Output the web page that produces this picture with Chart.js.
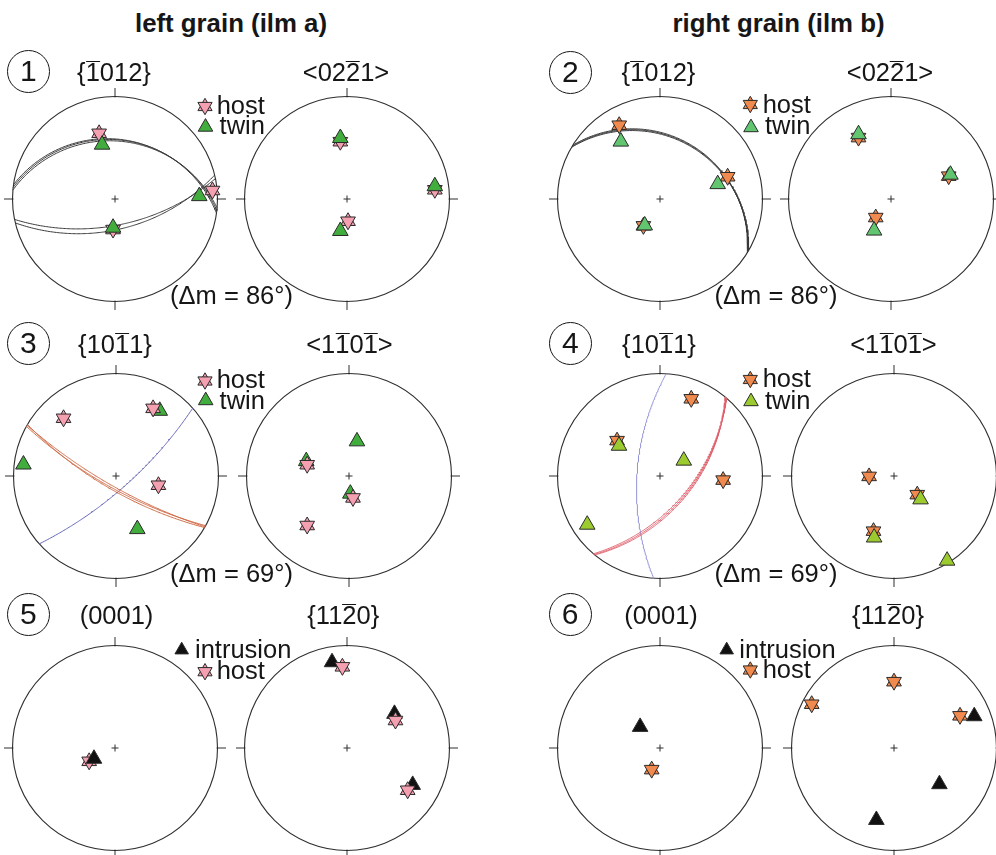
<!DOCTYPE html>
<html>
<head>
<meta charset="utf-8">
<title>Ilmenite twin orientations</title>
<script src="https://cdn.jsdelivr.net/npm/chart.js@4.4.1/dist/chart.umd.min.js"></script>
<style>
  html, body { margin: 0; padding: 0; width: 996px; height: 855px; overflow: hidden; background: #fff; }
  #fig { position: relative; width: 996px; height: 855px; overflow: hidden; }
  canvas.net { position: absolute; }
  .t { position: absolute; font-family: "Liberation Sans", Arial, sans-serif; color: #161616; white-space: nowrap; }
  .ob { display: inline-block; border-top: 1.6px solid #161616; line-height: 21px; }
  .num { position: absolute; box-sizing: border-box; width: 43px; height: 43px; border: 1.5px solid #161616;
         border-radius: 50%; text-align: center; font-family: "Liberation Sans", Arial, sans-serif;
         font-size: 30px; line-height: 40px; color: #161616; }
</style>
</head>
<body>
<div id="fig"></div>
<script>
// ---------- text ----------
const grainTitles = ['left grain (ilm a)', 'right grain (ilm b)'];
const panelNumbers = ['1', '2', '3', '4', '5', '6'];
// "~" puts a bar over the following digit
const planeLabels = [
  ['{~1012}', '<02~21>'],
  ['{10~11}', '<1~10~1>'],
  ['(0001)', '{11~20}']
];
const misorientation = ['(\u0394m = 86\u00b0)', '(\u0394m = 69\u00b0)'];
const seriesNames = { host: 'host', twin: 'twin', intr: 'intrusion' };

// ---------- poles: projected x (east), y (north), primitive radius = 1 ----------
// 1: left grain, {-1012} and <02-21>
const f1L_host = [[-0.155, 0.641], [0.951, 0.083], [-0.019, -0.298]];
const f1L_twin = [[-0.126, 0.530], [0.822, 0.028], [-0.019, -0.280]];
const f1R_host = [[-0.065, 0.559], [0.857, 0.090], [0.010, -0.217]];
const f1R_twin = [[-0.065, 0.595], [0.857, 0.125], [-0.065, -0.312]];
// 2: right grain, {-1012} and <02-21>
const f2L_host = [[-0.398, 0.720], [0.660, 0.217], [-0.162, -0.262]];
const f2L_twin = [[-0.382, 0.560], [0.563, 0.145], [-0.149, -0.258]];
const f2R_host = [[-0.317, 0.599], [0.563, 0.223], [-0.149, -0.181]];
const f2R_twin = [[-0.317, 0.632], [0.580, 0.237], [-0.165, -0.308]];
// 3: left grain, {10-11} and <1-10-1>
const f3L_host = [[-0.512, 0.563], [0.362, 0.660], [0.414, -0.090]];
const f3L_twin = [[-0.903, 0.112], [0.427, 0.636], [0.208, -0.518]];
const f3R_host = [[-0.408, 0.110], [0.039, -0.214], [-0.408, -0.483]];
const f3R_twin = [[0.078, 0.338], [-0.417, 0.145], [0.013, -0.172]];
// 4: right grain, {10-11} and <1-10-1>
const f4L_host = [[0.305, 0.753], [-0.419, 0.345], [0.616, -0.040]];
const f4L_twin = [[-0.400, 0.295], [0.232, 0.150], [-0.710, -0.475]];
const f4R_host = [[-0.243, -0.004], [0.227, -0.182], [-0.200, -0.538]];
const f4R_twin = [[0.259, -0.228], [-0.194, -0.600], [0.518, -0.826]];
// 5: left grain, (0001) and {11-20}
const f5L_intr = [[-0.205, -0.105]];
const f5L_host = [[-0.252, -0.130]];
const f5R_intr = [[-0.146, 0.837], [0.463, 0.333], [0.641, -0.360]];
const f5R_host = [[-0.045, 0.792], [0.473, 0.268], [0.592, -0.412]];
// 6: right grain, (0001) and {11-20}
const f6L_intr = [[-0.194, 0.206]];
const f6L_host = [[-0.081, -0.211]];
const f6R_host = [[0.000, 0.647], [-0.803, 0.427], [0.644, 0.314]];
const f6R_intr = [[0.783, 0.310], [0.443, -0.353], [-0.172, -0.702]];

// ---------- twin planes as [dip direction, dip] in degrees ----------
const f1_planes = [[6.5, 30.0], [5.0, 31.0], [8.0, 29.5], [168.5, 61.4], [166.5, 57.0]];
const f2_planes = [[30.9, 28.0], [31.6, 27.4], [30.2, 28.6]];
const f3_red = [[209.7, 78.6], [209.0, 76.3], [210.2, 74.6]];
const f3_blue = [[138.5, 75.2]];
const f4_red = [[130.6, 57.4], [130.0, 55.9], [129.6, 54.6]];
const f4_blue = [[273.5, 64.6]];

// ---------- styling ----------
const PINK = '#F5A0B1', ORANGE = '#F08A4E', GREEN = '#41AD3D', MINT = '#62C56F', LIME = '#9BCB2E', BLACK = '#111111';
const EDGE = '#2b2b2b';
const R = 102.5;          // primitive radius in px
const H = 125;            // half size of each net canvas
const L = H / R;          // axis half range in projection units
const D2R = Math.PI / 180;
const SIZE = { host: 8.5, twin: 9.0, intr: 9.0 };
const LEG_SIZE = { host: 8.2, twin: 8.4, intr: 7.8 };

// lower hemisphere stereographic trace of a plane
function greatCircle(dipDir, dip, n = 160) {
  const a = dipDir * D2R, d = dip * D2R;
  const sx = Math.sin(a - Math.PI / 2), sy = Math.cos(a - Math.PI / 2);
  const dx = Math.sin(a) * Math.cos(d), dy = Math.cos(a) * Math.cos(d), dz = -Math.sin(d);
  const out = [];
  for (let i = 0; i <= n; i++) {
    const t = Math.PI * i / n, c = Math.cos(t), s = Math.sin(t);
    const vx = c * sx + s * dx, vy = c * sy + s * dy, vz = s * dz;
    const k = 1 / (1 - vz);
    out.push({ x: vx * k, y: vy * k });
  }
  return out;
}

const toXY = arr => arr.map(([x, y]) => ({ x, y }));

const panels = [
  { cx: 115, cy: 199, host: f1L_host, other: f1L_twin, kind: 'twin', hostFill: PINK, otherFill: GREEN, top: 'twin',
    planes: [[f1_planes, '#3a3a3a', 1]], legend: [['host', 205, 106.5], ['twin', 205.5, 127]] },
  { cx: 347, cy: 199, host: f1R_host, other: f1R_twin, kind: 'twin', hostFill: PINK, otherFill: GREEN, top: 'twin',
    planes: [], legend: [] },
  { cx: 660, cy: 199, host: f2L_host, other: f2L_twin, kind: 'twin', hostFill: ORANGE, otherFill: MINT, top: 'twin',
    planes: [[f2_planes, '#3a3a3a', 1]], legend: [['host', 750.3, 104.5], ['twin', 751, 127.5]] },
  { cx: 891, cy: 199, host: f2R_host, other: f2R_twin, kind: 'twin', hostFill: ORANGE, otherFill: MINT, top: 'twin',
    planes: [], legend: [] },

  { cx: 116, cy: 476, host: f3L_host, other: f3L_twin, kind: 'twin', hostFill: PINK, otherFill: GREEN, top: 'host',
    planes: [[f3_red, '#CF6B47', 1], [f3_blue, '#6666B8', 1]], legend: [['host', 205, 381], ['twin', 205.7, 400.5]] },
  { cx: 349, cy: 476, host: f3R_host, other: f3R_twin, kind: 'twin', hostFill: PINK, otherFill: GREEN, top: 'host',
    planes: [], legend: [] },
  { cx: 660, cy: 476, host: f4L_host, other: f4L_twin, kind: 'twin', hostFill: ORANGE, otherFill: LIME, top: 'twin',
    planes: [[f4_red, '#E0606C', 0.9], [f4_blue, '#9393D8', 1]], legend: [['host', 750.3, 379.5], ['twin', 751, 401.5]] },
  { cx: 894, cy: 476, host: f4R_host, other: f4R_twin, kind: 'twin', hostFill: ORANGE, otherFill: LIME, top: 'twin',
    planes: [], legend: [] },

  { cx: 115, cy: 748, host: f5L_host, other: f5L_intr, kind: 'intr', hostFill: PINK, otherFill: BLACK, top: 'intr',
    planes: [], legend: [['intr', 181.7, 650], ['host', 205, 671.7]] },
  { cx: 347, cy: 748, host: f5R_host, other: f5R_intr, kind: 'intr', hostFill: PINK, otherFill: BLACK, top: 'host',
    planes: [], legend: [] },
  { cx: 660, cy: 748, host: f6L_host, other: f6L_intr, kind: 'intr', hostFill: ORANGE, otherFill: BLACK, top: 'host',
    planes: [], legend: [['intr', 726.7, 650], ['host', 750.3, 670]] },
  { cx: 894, cy: 748, host: f6R_host, other: f6R_intr, kind: 'intr', hostFill: ORANGE, otherFill: BLACK, top: 'host',
    planes: [], legend: [] }
];

// same geometry as Chart.js 'triangle' point style
function tri(ctx, x, y, r, rotDeg, fill) {
  let rad = rotDeg * D2R;
  ctx.beginPath();
  for (let i = 0; i < 3; i++) {
    const px = x + Math.sin(rad) * r, py = y - Math.cos(rad) * r;
    if (i === 0) ctx.moveTo(px, py); else ctx.lineTo(px, py);
    rad += 2 * Math.PI / 3;
  }
  ctx.closePath();
  ctx.fillStyle = fill;
  ctx.fill();
  ctx.lineWidth = 1;
  ctx.strokeStyle = EDGE;
  ctx.stroke();
}

// primitive circle, N/E/S/W ticks and centre cross
const netFrame = {
  id: 'netFrame',
  beforeDatasetsDraw(chart) {
    const { ctx, scales: { x, y } } = chart;
    const cx = x.getPixelForValue(0), cy = y.getPixelForValue(0);
    const r = x.getPixelForValue(1) - cx;
    ctx.save();
    ctx.strokeStyle = '#2f2f2f';
    ctx.lineWidth = 1.1;
    ctx.beginPath();
    ctx.arc(cx, cy, r, 0, 2 * Math.PI);
    ctx.stroke();
    ctx.beginPath();
    for (let k = 0; k < 4; k++) {
      const a = k * Math.PI / 2, ux = Math.sin(a), uy = -Math.cos(a);
      ctx.moveTo(cx + ux * (r - 1), cy + uy * (r - 1));
      ctx.lineTo(cx + ux * (r + 8.5), cy + uy * (r + 8.5));
    }
    ctx.moveTo(cx - 3.5, cy); ctx.lineTo(cx + 3.5, cy);
    ctx.moveTo(cx, cy - 3.5); ctx.lineTo(cx, cy + 3.5);
    ctx.lineWidth = 1;
    ctx.stroke();
    ctx.restore();
  }
};

const fig = document.getElementById('fig');

function markerSet(arr, fill, r, rot, order) {
  return {
    data: toXY(arr), showLine: false, order,
    pointStyle: 'triangle', pointRotation: rot, pointRadius: r,
    pointBackgroundColor: fill, pointBorderColor: EDGE, pointBorderWidth: 1
  };
}

function buildPanel(p) {
  const cv = document.createElement('canvas');
  cv.width = 2 * H; cv.height = 2 * H;
  cv.className = 'net';
  cv.style.left = (p.cx - H) + 'px';
  cv.style.top = (p.cy - H) + 'px';
  fig.appendChild(cv);

  const hostFirst = p.top === 'host';
  const ds = [];
  // hexagram for host: up triangle under a down triangle
  ds.push(markerSet(p.host, p.hostFill, SIZE.host, 180, hostFirst ? 1 : 2));
  ds.push(markerSet(p.host, p.hostFill, SIZE.host, 0, hostFirst ? 1.5 : 2.5));
  ds.push(markerSet(p.other, p.otherFill, SIZE[p.kind], 0, hostFirst ? 3 : 1));
  p.planes.forEach(([list, color, width], j) => {
    list.forEach(([dd, dip], k) => {
      ds.push({
        data: greatCircle(dd, dip), showLine: true, fill: false, tension: 0,
        borderColor: color, borderWidth: width, pointRadius: 0, order: 10 + j * 5 + k
      });
    });
  });

  const legendMarks = {
    id: 'legendMarks',
    afterDraw(chart) {
      const ctx = chart.ctx;
      const ox = p.cx - H, oy = p.cy - H;
      ctx.save();
      p.legend.forEach(([kind, lx, ly]) => {
        const x = lx - ox, y = ly - oy;
        if (kind === 'host') {
          tri(ctx, x, y, LEG_SIZE.host, 0, p.hostFill);
          tri(ctx, x, y, LEG_SIZE.host, 180, p.hostFill);
        } else {
          tri(ctx, x, y, LEG_SIZE[kind], 0, p.otherFill);
        }
      });
      ctx.restore();
    }
  };

  new Chart(cv, {
    type: 'scatter',
    data: { datasets: ds },
    options: {
      responsive: false, animation: false, events: [],
      layout: { padding: 0, autoPadding: false },
      plugins: { legend: { display: false }, tooltip: { enabled: false } },
      scales: {
        x: { type: 'linear', min: -L, max: L, display: false },
        y: { type: 'linear', min: -L, max: L, display: false }
      }
    },
    plugins: [netFrame, legendMarks]
  });
}

panels.forEach(buildPanel);

// ---------- labels ----------
function markup(s) {
  return s.replace(/&/g, '&amp;').replace(/</g, '&lt;').replace(/>/g, '&gt;')
          .replace(/~(.)/g, '<span class="ob">$1</span>');
}
function addText(html, x, base, size, bold, align) {
  const el = document.createElement('div');
  el.className = 't';
  el.innerHTML = html;
  el.style.fontSize = size + 'px';
  el.style.lineHeight = size + 'px';
  el.style.fontWeight = bold ? 'bold' : 'normal';
  el.style.top = (base - 0.8465 * size) + 'px';
  el.style.left = x + 'px';
  if (align === 'center') el.style.transform = 'translateX(-50%)';
  fig.appendChild(el);
}
function addNumber(txt, x, y) {
  const el = document.createElement('div');
  el.className = 'num';
  el.textContent = txt;
  el.style.left = (x - 21.5) + 'px';
  el.style.top = (y - 21.5) + 'px';
  fig.appendChild(el);
}

const FS = 25.5;
addText(grainTitles[0], 231, 32.5, 25.8, true, 'center');
addText(grainTitles[1], 778.5, 33, 25.8, true, 'center');

const numPos = [[28.3, 71.8], [570.3, 72], [28.3, 343.4], [570.3, 343.5], [28.3, 614], [570.2, 614]];
panelNumbers.forEach((n, i) => addNumber(n, numPos[i][0], numPos[i][1]));

const labelX = [[114, 346, 658.5, 890], [115, 349.5, 659, 893.5], [116.5, 343.3, 661, 888]];
const labelBase = [82, 353.5, 625];
planeLabels.forEach((pair, row) => {
  addText(markup(pair[0]), labelX[row][0], labelBase[row], FS, false, 'center');
  addText(markup(pair[1]), labelX[row][1], labelBase[row], FS, false, 'center');
  addText(markup(pair[0]), labelX[row][2], labelBase[row], FS, false, 'center');
  addText(markup(pair[1]), labelX[row][3], labelBase[row], FS, false, 'center');
});

addText(misorientation[0], 231.5, 305, FS, false, 'center');
addText(misorientation[0], 776, 305, FS, false, 'center');
addText(misorientation[1], 231.5, 583, FS, false, 'center');
addText(misorientation[1], 776, 583, FS, false, 'center');

const legendText = [
  ['host', 216.7, 115], ['twin', 219.6, 135],
  ['host', 762.7, 114], ['twin', 765, 135],
  ['host', 216.7, 388.3], ['twin', 219.6, 410],
  ['host', 762.7, 387.3], ['twin', 765, 409.3],
  ['intr', 195, 658.3], ['host', 216.7, 679.3],
  ['intr', 739.3, 658.3], ['host', 762.7, 679]
];
legendText.forEach(([k, x, b]) => addText(seriesNames[k], x, b, FS, false, 'left'));
</script>
</body>
</html>
